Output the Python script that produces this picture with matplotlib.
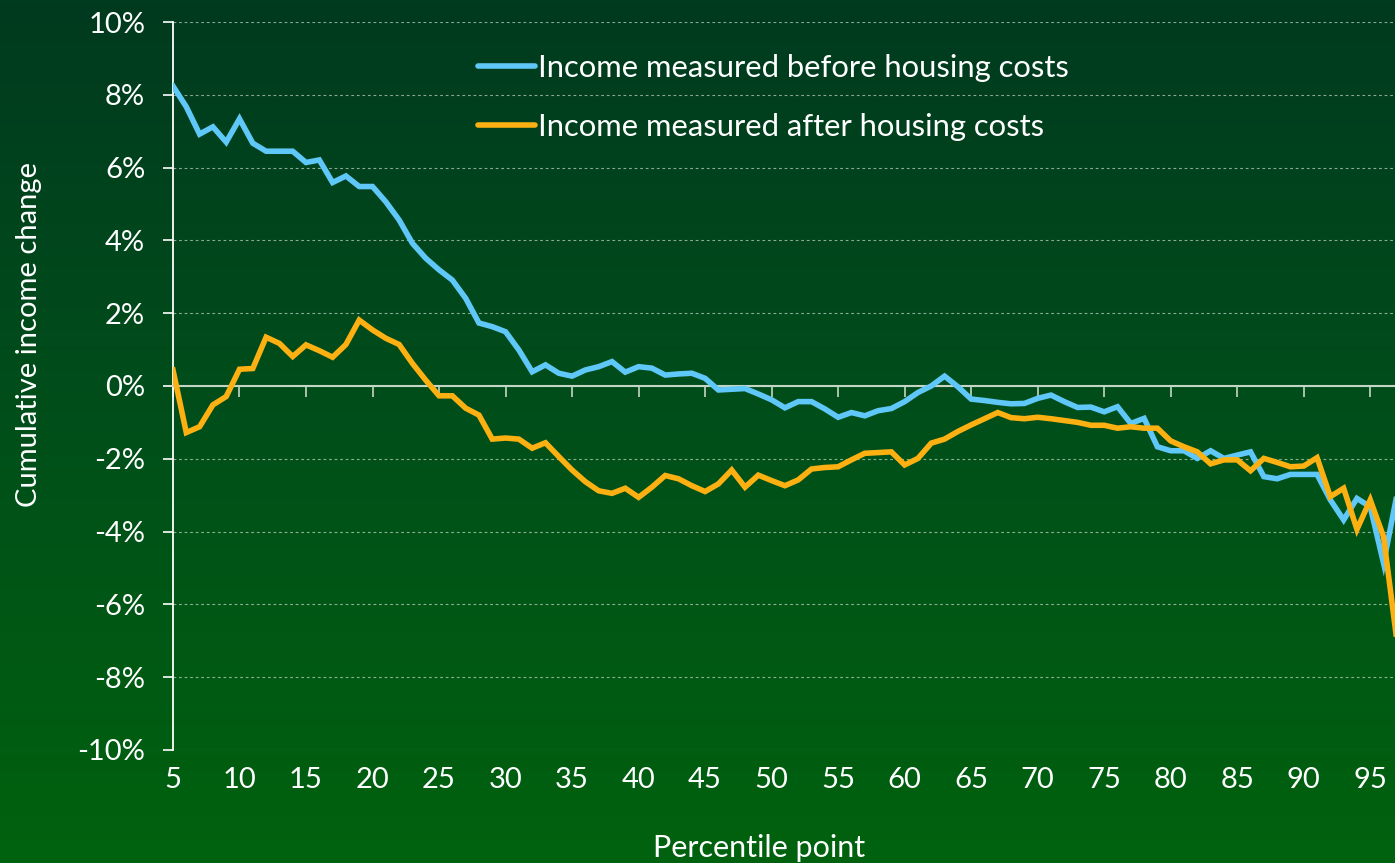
import numpy as np
import matplotlib
matplotlib.use("Agg")
import matplotlib.pyplot as plt
from matplotlib.colors import LinearSegmentedColormap

plt.rcParams["font.family"] = ["Lato", "DejaVu Sans"]

# Data (cumulative income change, %) by percentile point
percentiles = list(range(5, 98))
before_hc = [
    8.24, 7.67, 6.92, 7.12, 6.70, 7.34, 6.67, 6.45, 6.45, 6.45,
    6.14, 6.21, 5.59, 5.77, 5.48, 5.48, 5.06, 4.56, 3.92, 3.51,
    3.19, 2.91, 2.41, 1.73, 1.63, 1.49, 0.99, 0.39, 0.58, 0.35,
    0.27, 0.44, 0.53, 0.67, 0.38, 0.53, 0.49, 0.30, 0.33, 0.35,
    0.21, -0.11, -0.09, -0.07, -0.22, -0.38, -0.60, -0.43, -0.43, -0.63,
    -0.86, -0.73, -0.82, -0.68, -0.62, -0.43, -0.18, 0.00, 0.27, -0.02,
    -0.36, -0.40, -0.45, -0.49, -0.48, -0.34, -0.25, -0.43, -0.59, -0.58,
    -0.71, -0.57, -1.03, -0.89, -1.67, -1.78, -1.78, -1.99, -1.78, -1.99,
    -1.90, -1.81, -2.49, -2.55, -2.43, -2.43, -2.43, -3.13, -3.68, -3.09,
    -3.32, -4.87, -3.00,
]
after_hc = [
    0.44, -1.28, -1.12, -0.52, -0.29, 0.46, 0.48, 1.34, 1.17, 0.81,
    1.13, 0.97, 0.79, 1.14, 1.81, 1.54, 1.31, 1.14, 0.62, 0.16,
    -0.27, -0.27, -0.61, -0.80, -1.46, -1.43, -1.46, -1.71, -1.56, -1.94,
    -2.31, -2.63, -2.88, -2.95, -2.81, -3.06, -2.78, -2.46, -2.55, -2.74,
    -2.90, -2.69, -2.31, -2.78, -2.45, -2.60, -2.74, -2.58, -2.28, -2.24,
    -2.22, -2.03, -1.85, -1.83, -1.81, -2.17, -1.99, -1.57, -1.46, -1.25,
    -1.07, -0.90, -0.73, -0.87, -0.90, -0.86, -0.90, -0.95, -1.00, -1.08,
    -1.08, -1.16, -1.12, -1.16, -1.16, -1.51, -1.67, -1.81, -2.14, -2.03,
    -2.03, -2.33, -1.99, -2.10, -2.22, -2.20, -1.97, -3.04, -2.81, -3.94,
    -3.13, -4.14, -7.00,
]
labels = ["Income measured before housing costs", "Income measured after housing costs"]
x_ticks = list(range(5, 100, 5))
y_ticks = list(range(-10, 12, 2))

blue = "#5fc8f8"
orange = "#fdb012"
white = "white"

fig = plt.figure(figsize=(13.95, 8.63), dpi=100)

# Background gradient, dark green at top to brighter green at bottom
bg = fig.add_axes([0, 0, 1, 1], zorder=-1)
cmap = LinearSegmentedColormap.from_list("bg", ["#003a1f", "#004f1a", "#00620e"])
bg.imshow(np.linspace(0, 1, 256).reshape(-1, 1), aspect="auto", cmap=cmap,
          extent=[0, 1, 0, 1], origin="upper")
bg.axis("off")

ax = fig.add_axes([0.124, 0.131, 0.876, 0.8435])
ax.set_facecolor("none")

ax.plot(percentiles, before_hc, color=blue, lw=4, label=labels[0],
        solid_joinstyle="miter", zorder=3)
ax.plot(percentiles, after_hc, color=orange, lw=4, label=labels[1],
        solid_joinstyle="miter", zorder=3)

ax.set_xlim(5, 96.86)
ax.set_ylim(-10, 10)

# Dotted gridlines
ax.set_yticks(y_ticks)
ax.set_yticklabels([f"{v}%" for v in y_ticks])
ax.yaxis.grid(True, color="#c8d6c8", linestyle=(0, (2.5, 2.5)), lw=0.8, alpha=0.7)
ax.set_axisbelow(True)

# Spines: left in white, bottom at zero
for side in ("top", "right"):
    ax.spines[side].set_visible(False)
ax.spines["left"].set_color(white)
ax.spines["left"].set_linewidth(1.3)
ax.spines["bottom"].set_position(("data", 0))
ax.spines["bottom"].set_color("#c5d5c5")
ax.spines["bottom"].set_linewidth(1.5)

ax.set_xticks(x_ticks)
ax.tick_params(axis="x", direction="out", length=8, width=1.2, color="#c5d5c5",
               labelbottom=False)
ax.tick_params(axis="y", direction="out", length=7, width=1.2, color=white,
               labelcolor=white, labelsize=21, pad=13)

# Tick labels at the bottom of the plot area
secax = ax.secondary_xaxis("bottom")
secax.set_xticks(x_ticks)
secax.set_xticklabels([str(v) for v in x_ticks])
secax.tick_params(length=0, labelcolor=white, labelsize=21, pad=12)
secax.spines["bottom"].set_visible(False)

fig.text(0.021, 0.612, "Cumulative income change", rotation=90, color=white,
         fontsize=21, ha="center", va="center")
fig.text(0.544, 0.0175, "Percentile point", color=white, fontsize=22,
         ha="center", va="center")

leg = ax.legend(loc="upper left", bbox_to_anchor=(0.3427, 0.9375),
                bbox_transform=fig.transFigure, frameon=False, fontsize=22.3,
                handlelength=1.85, handletextpad=0.1, labelspacing=1.0,
                borderpad=0, borderaxespad=0)
for text in leg.get_texts():
    text.set_color(white)
for line in leg.get_lines():
    line.set_solid_capstyle("round")

fig.savefig("out.png", dpi=100)
